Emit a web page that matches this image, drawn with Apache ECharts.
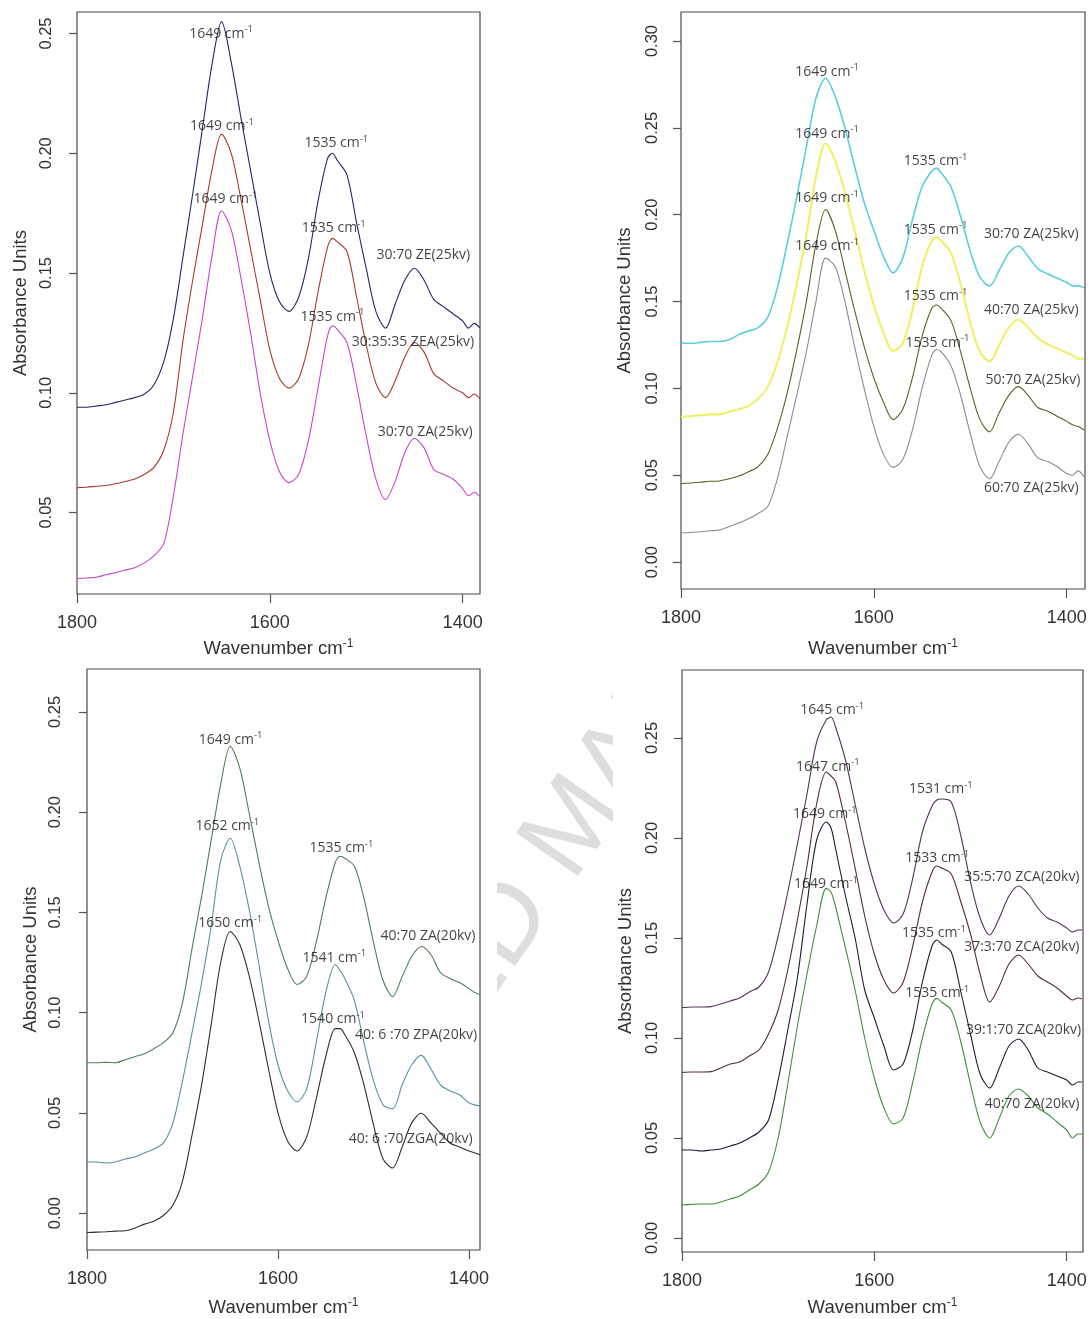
<!DOCTYPE html>
<html><head><meta charset="utf-8">
<script src="https://cdn.jsdelivr.net/npm/echarts@6/dist/echarts.min.js"></script>
<style>html,body{margin:0;padding:0;background:#fff}#c{width:1089px;height:1319px}</style>
</head><body><div id="c"></div>
<script>
// ---------- wavenumber grids (cm-1) ----------
const WN_A = [1800,1790,1780,1770,1760,1750,1740,1730,1720,1710,1700,1690,1680,1670,1660,1650,1640,1630,1620,1610,1600,1590,1580,1570,1560,1550,1540,1535,1530,1520,1510,1500,1490,1480,1470,1460,1450,1440,1430,1420,1410,1400,1394,1388,1382];
const WN_C = [1800,1790,1780,1770,1760,1750,1740,1730,1720,1710,1700,1690,1680,1670,1660,1650,1640,1630,1620,1610,1600,1590,1580,1570,1560,1550,1540,1535,1530,1520,1510,1500,1490,1480,1470,1460,1450,1440,1430,1420,1410,1400,1394,1388];
const WN_D = [1800,1790,1780,1770,1760,1750,1740,1730,1720,1710,1700,1690,1680,1670,1660,1650,1645,1640,1630,1620,1610,1600,1590,1580,1570,1560,1550,1540,1535,1530,1520,1510,1500,1490,1480,1470,1460,1450,1440,1430,1420,1410,1400,1394,1388,1384];

// ---------- panel 1 (25 kV) ----------
const P1_ZE = [0.094,0.094,0.0945,0.095,0.096,0.097,0.098,0.0995,0.1035,0.113,0.131,0.157,0.183,0.210,0.237,0.255,0.238,0.215,0.193,0.171,0.150,0.138,0.134,0.140,0.156,0.180,0.198,0.200,0.197,0.191,0.171,0.152,0.134,0.127,0.137,0.147,0.152,0.147,0.139,0.136,0.133,0.130,0.127,0.129,0.127];
const P1_ZEA = [0.0604,0.0606,0.061,0.0613,0.062,0.063,0.064,0.066,0.069,0.076,0.092,0.122,0.147,0.170,0.193,0.208,0.200,0.181,0.160,0.139,0.118,0.106,0.102,0.106,0.120,0.142,0.161,0.1645,0.163,0.159,0.140,0.120,0.104,0.098,0.105,0.115,0.121,0.117,0.108,0.105,0.102,0.100,0.098,0.0995,0.0975];
const P1_ZA = [0.0225,0.0227,0.023,0.024,0.025,0.026,0.027,0.029,0.032,0.037,0.057,0.083,0.107,0.131,0.157,0.176,0.168,0.148,0.125,0.100,0.080,0.067,0.0625,0.066,0.080,0.102,0.124,0.128,0.1265,0.121,0.103,0.082,0.064,0.0555,0.063,0.075,0.081,0.077,0.068,0.066,0.064,0.060,0.057,0.0585,0.0565];
// ---------- panel 2 (ZA, 25 kV) ----------
const P2_30 = [0.126,0.126,0.1265,0.127,0.127,0.128,0.131,0.133,0.135,0.141,0.158,0.183,0.210,0.239,0.267,0.2786,0.268,0.250,0.228,0.207,0.191,0.176,0.1665,0.175,0.197,0.216,0.225,0.2268,0.224,0.216,0.199,0.179,0.164,0.159,0.168,0.178,0.182,0.176,0.169,0.166,0.1635,0.161,0.159,0.159,0.158];
const P2_40 = [0.0837,0.084,0.0845,0.085,0.085,0.0865,0.088,0.090,0.094,0.101,0.115,0.135,0.160,0.188,0.222,0.241,0.231,0.213,0.191,0.168,0.148,0.132,0.1215,0.126,0.145,0.170,0.185,0.187,0.185,0.178,0.160,0.138,0.121,0.1155,0.125,0.135,0.1397,0.135,0.129,0.1255,0.123,0.1205,0.119,0.117,0.117];
const P2_50 = [0.0452,0.0455,0.046,0.0465,0.0467,0.048,0.0495,0.052,0.055,0.062,0.077,0.097,0.122,0.150,0.183,0.203,0.191,0.168,0.145,0.124,0.106,0.092,0.082,0.088,0.106,0.130,0.146,0.148,0.146,0.139,0.121,0.100,0.082,0.075,0.086,0.096,0.101,0.096,0.089,0.087,0.084,0.081,0.079,0.078,0.076];
const P2_60 = [0.0167,0.017,0.0175,0.018,0.0185,0.0205,0.0225,0.025,0.028,0.032,0.048,0.072,0.096,0.121,0.150,0.175,0.170,0.150,0.124,0.100,0.078,0.062,0.0545,0.059,0.076,0.100,0.119,0.1224,0.121,0.113,0.096,0.074,0.055,0.048,0.058,0.069,0.0736,0.068,0.060,0.058,0.055,0.051,0.050,0.0525,0.049];
// ---------- panel 3 (20 kV) ----------
const P3_ZA = [0.075,0.075,0.0752,0.075,0.0765,0.078,0.0795,0.082,0.085,0.090,0.105,0.132,0.158,0.186,0.214,0.2329,0.222,0.199,0.175,0.153,0.136,0.122,0.114,0.118,0.135,0.157,0.175,0.178,0.177,0.173,0.157,0.135,0.116,0.108,0.118,0.128,0.133,0.129,0.120,0.117,0.115,0.112,0.110,0.109];
const P3_ZPA = [0.0255,0.0255,0.025,0.0255,0.027,0.028,0.030,0.032,0.035,0.045,0.066,0.090,0.115,0.143,0.176,0.187,0.173,0.151,0.124,0.096,0.074,0.061,0.0555,0.062,0.085,0.110,0.124,0.121,0.117,0.106,0.085,0.066,0.054,0.052,0.064,0.074,0.0787,0.072,0.064,0.061,0.059,0.055,0.054,0.0535];
const P3_ZGA = [-0.0097,-0.0095,-0.0093,-0.009,-0.0088,-0.0075,-0.0055,-0.004,-0.0012,0.004,0.016,0.039,0.064,0.094,0.125,0.1405,0.134,0.118,0.096,0.072,0.050,0.036,0.031,0.038,0.057,0.078,0.092,0.092,0.089,0.080,0.064,0.044,0.027,0.0225,0.033,0.045,0.0498,0.045,0.040,0.035,0.033,0.031,0.030,0.029];
// ---------- panel 4 (ZCA, 20 kV) ----------
const P4_35 = [0.1152,0.1155,0.1155,0.1157,0.117,0.1185,0.120,0.123,0.1255,0.133,0.151,0.173,0.197,0.222,0.248,0.259,0.2605,0.255,0.239,0.217,0.195,0.177,0.164,0.1575,0.162,0.180,0.203,0.216,0.219,0.2195,0.218,0.201,0.178,0.160,0.1515,0.160,0.171,0.176,0.172,0.165,0.160,0.158,0.155,0.153,0.154,0.154];
const P4_37 = [0.0828,0.083,0.083,0.0832,0.085,0.087,0.088,0.091,0.094,0.102,0.114,0.134,0.159,0.186,0.217,0.233,0.231,0.228,0.208,0.185,0.161,0.142,0.129,0.1225,0.128,0.146,0.168,0.183,0.186,0.185,0.182,0.168,0.152,0.132,0.118,0.126,0.137,0.1415,0.137,0.131,0.128,0.125,0.121,0.119,0.12,0.1195];
const P4_39 = [0.044,0.044,0.0435,0.044,0.0445,0.046,0.0475,0.050,0.053,0.059,0.079,0.104,0.130,0.167,0.199,0.208,0.205,0.194,0.171,0.150,0.124,0.110,0.096,0.084,0.087,0.104,0.128,0.146,0.149,0.147,0.143,0.123,0.102,0.082,0.075,0.085,0.096,0.0995,0.094,0.085,0.083,0.081,0.079,0.0765,0.078,0.078];
const P4_40 = [0.0165,0.0168,0.017,0.017,0.018,0.0195,0.021,0.024,0.027,0.033,0.050,0.077,0.106,0.132,0.156,0.1748,0.173,0.165,0.145,0.124,0.100,0.080,0.065,0.057,0.060,0.078,0.100,0.117,0.1198,0.118,0.114,0.098,0.077,0.058,0.050,0.060,0.071,0.0745,0.071,0.065,0.062,0.058,0.054,0.050,0.052,0.052];

// ---------- tick labels ----------
const X_TICKS = [1800, 1600, 1400];
const Y_TICKS_1 = [0.05, 0.10, 0.15, 0.20, 0.25];
const Y_TICKS_2 = [0.00, 0.05, 0.10, 0.15, 0.20, 0.25, 0.30];
const Y_TICKS_34 = [0.00, 0.05, 0.10, 0.15, 0.20, 0.25];

// ---------- annotations [wavenumber, absorbance, text] ----------
const ANN_1 = [[1650.6,0.2500,'1649 cm-1'],[1649.6,0.2113,'1649 cm-1'],[1646,0.1808,'1649 cm-1'],
  [1531,0.2043,'1535 cm-1'],[1533.7,0.1688,'1535 cm-1'],[1535,0.1318,'1535 cm-1'],
  [1440.8,0.1575,'30:70 ZE(25kv)'],[1451.5,0.1214,'30:35:35 ZEA(25kv)'],[1438.8,0.0835,'30:70 ZA(25kv)']];
const ANN_2 = [[1648.5,0.2824,'1649 cm-1'],[1648.5,0.2466,'1649 cm-1'],[1648.5,0.2096,'1649 cm-1'],[1648.5,0.1818,'1649 cm-1'],
  [1536,0.2310,'1535 cm-1'],[1536,0.1914,'1535 cm-1'],[1536,0.1530,'1535 cm-1'],[1534,0.1263,'1535 cm-1'],
  [1436.7,0.1889,'30:70 ZA(25kv)'],[1436.7,0.1454,'40:70 ZA(25kv)'],[1435,0.1048,'50:70 ZA(25kv)'],[1436.7,0.0429,'60:70 ZA(25kv)']];
const ANN_3 = [[1649.6,0.2362,'1649 cm-1'],[1653,0.1930,'1652 cm-1'],[1533.6,0.1822,'1535 cm-1'],[1650,0.1448,'1650 cm-1'],
  [1443,0.1381,'40:70 ZA(20kv)'],[1541,0.1274,'1541 cm-1'],[1542.4,0.0966,'1540 cm-1'],
  [1455.5,0.0886,'40: 6 :70 ZPA(20kv)'],[1461,0.0368,'40: 6 :70 ZGA(20kv)']];
const ANN_4 = [[1643.8,0.2640,'1645 cm-1'],[1648.4,0.2357,'1647 cm-1'],[1651.5,0.2120,'1649 cm-1'],[1650.3,0.1770,'1649 cm-1'],
  [1530.8,0.2243,'1531 cm-1'],[1534.6,0.1899,'1533 cm-1'],[1538,0.1523,'1535 cm-1'],[1534.6,0.1223,'1535 cm-1'],
  [1446.6,0.1807,'35:5:70 ZCA(20kv)'],[1446.6,0.1453,'37:3:70 ZCA(20kv)'],[1444.8,0.1040,'39:1:70 ZCA(20kv)'],[1436,0.0670,'40:70 ZA(20kv)']];

// ---------- layout / style ----------
const GRIDS = [
  {left:77, top:12, width:403, height:582},
  {left:681, top:12, width:404, height:577},
  {left:87, top:669, width:393, height:581},
  {left:682, top:670, width:401, height:582}];
const XMIN = [1382, 1381, 1388.5, 1383];
const YR = [[0.016,0.259],[-0.0155,0.3167],[-0.0184,0.2714],[-0.007,0.284]];
const YT = [Y_TICKS_1, Y_TICKS_2, Y_TICKS_34, Y_TICKS_34];
const YMARGIN = [22, 20, 23, 21];
const XNAMEGAP = [44, 49, 47, 45];
const AXF = 'Liberation Sans, Arial, sans-serif';
const ANF = 'Open Sans, sans-serif';
const TXT = '#333';

const SERIES_DEF = [
  [0, WN_A, P1_ZE, '#24246a', 1.1],
  [0, WN_A, P1_ZEA, '#a63a30', 1.1],
  [0, WN_A, P1_ZA, '#c845cc', 1.1],
  [1, WN_A, P2_30, '#5ccfdb', 1.6],
  [1, WN_A, P2_40, '#eef060', 2.0],
  [1, WN_A, P2_50, '#5e5e26', 1.1],
  [1, WN_A, P2_60, '#8c8c8c', 1.1],
  [2, WN_C, P3_ZA, '#4f7f55', 1.1],
  [2, WN_C, P3_ZPA, '#5a90a0', 1.1],
  [2, WN_C, P3_ZGA, '#2e2e2e', 1.1],
  [3, WN_D, P4_35, '#56325c', 1.1],
  [3, WN_D, P4_37, '#52302e', 1.1],
  [3, WN_D, P4_39, '#1c1c32', 1.1],
  [3, WN_D, P4_40, '#3f8f3f', 1.1]];
const ANNS = [ANN_1, ANN_2, ANN_3, ANN_4];

function pts(xs, ys) { return xs.map((x, i) => [x, ys[i]]); }
function labelFmt(t) {
  if (t.endsWith(' cm-1')) return '{t|' + t.slice(0, -2) + '}{s|-1}';
  return '{t|' + t + '}';
}
const ANN_RICH = {
  t: {fontSize: 14, fontFamily: ANF, color: '#111', lineHeight: 18},
  s: {fontSize: 9.5, fontFamily: ANF, color: '#111', verticalAlign: 'top', lineHeight: 10}
};

const grid = GRIDS.map(g => Object.assign({show: true, borderColor: '#4a4a4a', borderWidth: 1.2,
  backgroundColor: 'transparent', containLabel: false, outerBoundsMode: 'none'}, g));
const xAxis = GRIDS.map((g, i) => ({
  type: 'value', gridIndex: i, inverse: true, min: XMIN[i], max: 1800,
  axisLine: {show: false, onZero: false}, splitLine: {show: false},
  axisTick: {show: true, length: 9, customValues: X_TICKS, lineStyle: {color: '#555', width: 1.2}},
  axisLabel: {customValues: X_TICKS, fontSize: 18, margin: 20, color: TXT, fontFamily: AXF,
    formatter: v => String(Math.round(v))},
  name: '{a|Wavenumber cm}{b|-1}', nameLocation: 'middle', nameGap: XNAMEGAP[i],
  nameTextStyle: {rich: {
    a: {fontSize: 18.5, fontFamily: AXF, color: TXT, lineHeight: 22},
    b: {fontSize: 12, fontFamily: AXF, color: TXT, verticalAlign: 'top', lineHeight: 12}}}
}));
const yAxis = GRIDS.map((g, i) => ({
  type: 'value', gridIndex: i, min: YR[i][0], max: YR[i][1],
  axisLine: {show: false, onZero: false}, splitLine: {show: false},
  axisTick: {show: true, length: 8, customValues: YT[i], lineStyle: {color: '#555', width: 1.2}},
  axisLabel: {customValues: YT[i], rotate: 90, fontSize: 16.5, margin: YMARGIN[i], color: TXT, fontFamily: AXF,
    formatter: v => Number(v).toFixed(2)},
  name: 'Absorbance Units', nameLocation: 'middle', nameGap: 47,
  nameTextStyle: {fontSize: 18.5, fontFamily: AXF, color: TXT}
}));

const series = SERIES_DEF.map(d => ({
  type: 'line', xAxisIndex: d[0], yAxisIndex: d[0], data: pts(d[1], d[2]),
  showSymbol: false, smooth: 0.3, silent: true, z: 3,
  lineStyle: {color: d[3], width: d[4]}, itemStyle: {color: d[3]}
}));
ANNS.forEach((ann, i) => {
  series.push({
    type: 'scatter', xAxisIndex: i, yAxisIndex: i, symbolSize: 0, silent: true, z: 6,
    data: ann.map(a => ({value: [a[0], a[1]], name: a[2]})),
    label: {show: true, position: 'inside', formatter: p => labelFmt(p.name), rich: ANN_RICH}
  });
});

const graphic = [
  {type: 'text', x: 576, y: 826, rotation: 0.96, z: -20, silent: true,
   style: {text: 'ACCEPTED MANUSCRIPT', fontSize: 110, fontFamily: AXF, fill: '#dedede',
           textAlign: 'center', textVerticalAlign: 'middle', align: 'center', verticalAlign: 'middle'}},
  {type: 'rect', shape: {x: 0, y: 0, width: 497, height: 1319}, z: -10, silent: true, style: {fill: '#fff'}},
  {type: 'rect', shape: {x: 613, y: 0, width: 476, height: 1319}, z: -10, silent: true, style: {fill: '#fff'}}
];

const chart = echarts.init(document.getElementById('c'), null, {renderer: 'canvas'});
chart.setOption({animation: false, backgroundColor: '#fff', grid, xAxis, yAxis, series, graphic});
</script></body></html>
